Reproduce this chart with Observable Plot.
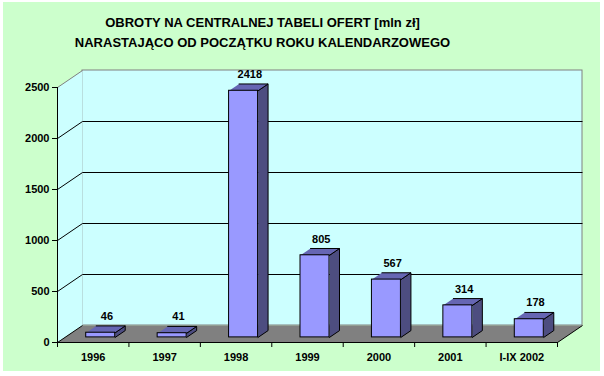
<!DOCTYPE html>
<html>
<head>
<meta charset="utf-8">
<script src="https://cdn.jsdelivr.net/npm/d3@7"></script>
<script src="https://cdn.jsdelivr.net/npm/@observablehq/plot@0.6"></script>
<style>
  html, body { margin: 0; padding: 0; background: #ffffff; }
  #wrap { position: relative; width: 604px; height: 376px; overflow: hidden; background: #ffffff; }
  #bg { position: absolute; left: 3px; top: 2px; width: 597px; height: 369px; background: #CCFFCC; }
  #title { position: absolute; left: 0; top: 13px; width: 525px; text-align: center;
           font: bold 13px "Liberation Sans", Arial, sans-serif; line-height: 20px; color: #000; }
  #chart { position: absolute; left: 0; top: 55px; }
</style>
</head>
<body>
<div id="wrap">
  <div id="bg"></div>
  <div id="title">OBROTY NA CENTRALNEJ TABELI OFERT [mln zł]<br>NARASTAJĄCO OD POCZĄTKU ROKU KALENDARZOWEGO</div>
  <div id="chart"></div>
</div>
<script>
const categories = ["1996", "1997", "1998", "1999", "2000", "2001", "I-IX 2002"];
const values = [46, 41, 2418, 805, 567, 314, 178];
const yTicks = [0, 500, 1000, 1500, 2000, 2500];

// layout (pixels)
const W = 604, H = 321;
const mL = 57, mR = 47, mT = 32, mB = 34;
const pxPerX = (W - mL - mR) / categories.length;   // px per category unit
const pxPerY = (H - mT - mB) / 2500;                // px per value unit
// 3D depth offset of full wall (pixels) converted into data units
const DX = 25 / pxPerX, DY = 17 / pxPerY;
const Z0 = 0.3, Z1 = 0.7;          // bar front / back depth
const HW = 14.5 / pxPerX;          // bar half width
const n = categories.length;

const bars = values.map((v, i) => {
  const c = i + 0.5 + Z0 * DX;
  return {i, v, cat: categories[i], x1: c - HW, x2: c + HW};
});
const dd = (Z1 - Z0);
const sides = bars.flatMap(b => [
  {k: b.i, x: b.x2, y: Z0 * DY},
  {k: b.i, x: b.x2 + dd * DX, y: Z1 * DY},
  {k: b.i, x: b.x2 + dd * DX, y: b.v + Z1 * DY},
  {k: b.i, x: b.x2, y: b.v + Z0 * DY}
]);
const tops = bars.flatMap(b => [
  {k: b.i, x: b.x1, y: b.v + Z0 * DY},
  {k: b.i, x: b.x2, y: b.v + Z0 * DY},
  {k: b.i, x: b.x2 + dd * DX, y: b.v + Z1 * DY},
  {k: b.i, x: b.x1 + dd * DX, y: b.v + Z1 * DY}
]);
const yMax = yTicks[yTicks.length - 1];
const sideWall = [{x: 0, y: 0}, {x: DX, y: DY}, {x: DX, y: yMax + DY}, {x: 0, y: yMax}];
const floor = [{x: 0, y: 0}, {x: n, y: 0}, {x: n + DX, y: DY}, {x: DX, y: DY}];
const boundaries = d3.range(n + 1);
const centers = d3.range(n).map(i => i + 0.5);

const chart = Plot.plot({
  width: W, height: H,
  marginLeft: mL, marginRight: mR, marginTop: mT, marginBottom: mB,
  style: {background: "transparent", color: "#000", fontFamily: "'Liberation Sans', Arial, sans-serif", fontSize: "11px", fontWeight: "bold", overflow: "visible"},
  x: {domain: [0, n], axis: null},
  y: {domain: [0, yMax], axis: null},
  marks: [
    // back wall
    Plot.rect([0], {x1: () => DX, x2: () => n + DX, y1: () => DY, y2: () => yMax + DY, fill: "#CCFFFF", stroke: "#808080", strokeWidth: 1}),
    // left side wall
    Plot.line(sideWall, {x: "x", y: "y", fill: "#CCFFFF", stroke: "none"}),
    Plot.link([0], {x1: () => 0, y1: () => yMax, x2: () => DX, y2: () => yMax + DY, stroke: "#808080", strokeWidth: 1}),
    // floor
    Plot.line(floor, {x: "x", y: "y", fill: "#808080", stroke: "none"}),
    // gridlines on back wall
    Plot.link(yTicks.slice(1, -1), {x1: () => DX, x2: () => n + DX, y1: d => d + DY, y2: d => d + DY, stroke: "#000", strokeWidth: 1}),
    // gridlines on side wall
    Plot.link(yTicks.slice(0, -1), {x1: () => 0, x2: () => DX, y1: d => d, y2: d => d + DY, stroke: "#000", strokeWidth: 1}),
    // right floor edge
    Plot.link([0], {x1: () => n, y1: () => 0, x2: () => n + DX, y2: () => DY, stroke: "#000", strokeWidth: 1}),
    // bars
    Plot.line(sides, {x: "x", y: "y", z: "k", fill: "#4D4D80", stroke: "#000", strokeWidth: 1, strokeLinejoin: "miter"}),
    Plot.line(tops, {x: "x", y: "y", z: "k", fill: "#6666B3", stroke: "#000", strokeWidth: 1, strokeLinejoin: "miter"}),
    Plot.rect(bars, {x1: "x1", x2: "x2", y1: () => Z0 * DY, y2: d => d.v + Z0 * DY, fill: "#9999FF", stroke: "#000", strokeWidth: 1}),
    // value labels
    Plot.text(bars, {x: d => d.i + 0.5 + 0.55 * DX, y: d => d.v + Z1 * DY, text: d => String(d.v), dy: -9.5, fontSize: 11, fontWeight: "bold"}),
    // axes
    Plot.ruleX([0], {y1: 0, y2: yMax, stroke: "#000", strokeWidth: 1}),
    Plot.ruleY([0], {x1: 0, x2: n, stroke: "#000", strokeWidth: 1}),
    Plot.axisY(yTicks, {tickSize: 5, tickPadding: 3, strokeWidth: 1, fontSize: 11, fontWeight: "bold", tickFormat: d => String(d), label: null}),
    Plot.axisX(boundaries, {tickSize: 5, tickFormat: () => "", strokeWidth: 1, label: null}),
    Plot.axisX(centers, {tickSize: 0, tickPadding: 11, tickFormat: d => categories[Math.floor(d)], fontSize: 11, fontWeight: "bold", label: null})
  ]
});
document.getElementById("chart").appendChild(chart);
</script>
</body>
</html>
